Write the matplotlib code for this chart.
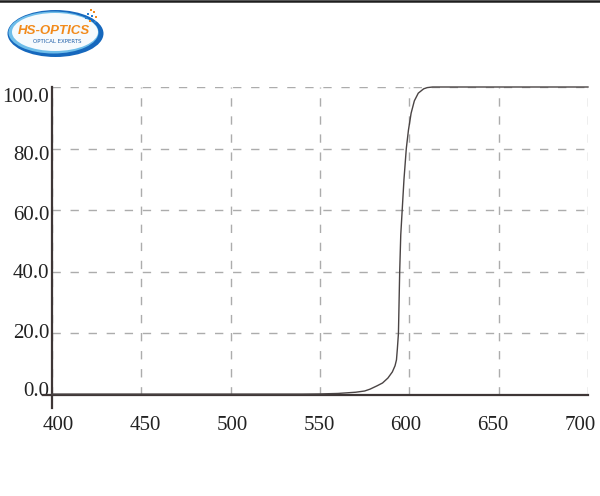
import matplotlib
matplotlib.use("Agg")
import matplotlib.pyplot as plt
import matplotlib.transforms as mtransforms
from matplotlib.patches import Ellipse
from matplotlib.lines import Line2D
import numpy as np

# ---- data ----
wavelength = [400, 450, 500, 540, 550, 560, 565, 570, 575, 578, 582, 585, 588,
              590.5, 592, 592.8, 593.3, 593.9, 594.6, 595.2, 596, 597, 598.3,
              599.5, 601, 602.8, 605, 608, 610, 613, 620, 650, 700]
transmission = [0.3, 0.3, 0.3, 0.3, 0.35, 0.5, 0.7, 0.9, 1.3, 1.9, 3.0, 3.9, 5.5,
                7.5, 9.5, 11.4, 15, 20, 40, 52, 60, 70, 80,
                86, 91.5, 95.5, 98, 99.4, 99.8, 100, 100, 100, 100]
x_ticks = [400, 450, 500, 550, 600, 650, 700]
y_ticks = [0, 20, 40, 60, 80, 100]
y_tick_labels = ["0.0", "20.0", "40.0", "60.0", "80.0", "100.0"]

plt.rcParams['lines.scale_dashes'] = False
W, H = 600, 496
fig = plt.figure(figsize=(W / 100, H / 100), dpi=100)
ax = fig.add_axes([52 / W, 1 - 395 / H, (588 - 52) / W, (395 - 87) / H])

ax.plot(wavelength, transmission, color="#4a4444", lw=1.0, clip_on=False, zorder=3)
ax.set_xlim(400, 700)
ax.set_ylim(0, 100)
ax.set_xticks(x_ticks)
ax.set_xticklabels([str(v) for v in x_ticks])
ax.set_yticks(y_ticks)
ax.set_yticklabels(y_tick_labels)

ax.grid(True, color="#acacac", lw=1.0, dashes=(6, 7))
for s in ["top", "right"]:
    ax.spines[s].set_visible(False)
for s in ["left", "bottom"]:
    ax.spines[s].set_color("#3e3636")
    ax.spines[s].set_linewidth(1.6)

ax.tick_params(axis="both", length=0, labelsize=15, labelcolor="#222222")
ax.tick_params(axis="x", pad=15)
ax.tick_params(axis="y", pad=2)
for lab in ax.get_xticklabels() + ax.get_yticklabels():
    lab.set_fontfamily("Liberation Serif")

# slight label offsets as in the reference
for tick, v in zip(ax.xaxis.get_major_ticks(), x_ticks):
    dx = (6 - 14 * (v - 400) / 300) / 100
    tick.label1.set_transform(tick.label1.get_transform() +
                              mtransforms.ScaledTranslation(dx, 0, fig.dpi_scale_trans))
for tick, v in zip(ax.yaxis.get_major_ticks(), y_ticks):
    dy = -(-5.5 + 0.13 * v) / 100
    tick.label1.set_transform(tick.label1.get_transform() +
                              mtransforms.ScaledTranslation(0, dy, fig.dpi_scale_trans))

# spine extensions
ax.add_line(Line2D([0, 0], [0, -13 / 308], transform=ax.transAxes, color="#3e3636",
                   lw=1.6, clip_on=False))
ax.add_line(Line2D([-9 / 536, 0], [0, 0], transform=ax.transAxes, color="#3e3636",
                   lw=1.6, clip_on=False))

# top border line
fig.add_artist(Line2D([0, 1], [1 - 1 / H, 1 - 1 / H], transform=fig.transFigure,
                      color="#1e1e1e", lw=1.8))

# ---- logo ----
lax = fig.add_axes([0, 1 - 70 / H, 140 / W, 70 / H])
lax.set_xlim(0, 140)
lax.set_ylim(70, 0)
lax.axis("off")
lax.add_patch(Ellipse((55.5, 33.5), 96, 47, facecolor="#1668bd", edgecolor="none"))
lax.add_patch(Ellipse((53.5, 32.5), 90, 42, facecolor="#6ebde9", edgecolor="none"))
lax.add_patch(Ellipse((55, 32), 86, 38, facecolor="#f6fafd", edgecolor="none"))
lax.text(54, 30.5, "HS-OPTICS", color="#f28a1a", fontsize=9.5, fontweight="bold",
         fontstyle="italic", family="Liberation Sans", ha="center", va="center")
lax.text(57, 41.5, "OPTICAL EXPERTS", color="#1f5fa8", fontsize=4.0,
         family="DejaVu Sans", ha="center", va="center")
dots = [(91, 10, "#f28a1a"), (94, 12, "#f28a1a"), (88, 14, "#2a7fd0"), (92, 16, "#2a7fd0"),
        (96, 17, "#f28a1a"), (86, 18, "#2a7fd0"), (90, 21, "#f28a1a"), (95, 22, "#2a7fd0")]
for x, y, c in dots:
    lax.plot(x, y, "s", ms=1.6, color=c, mew=0)

fig.savefig("out.png", dpi=100)
